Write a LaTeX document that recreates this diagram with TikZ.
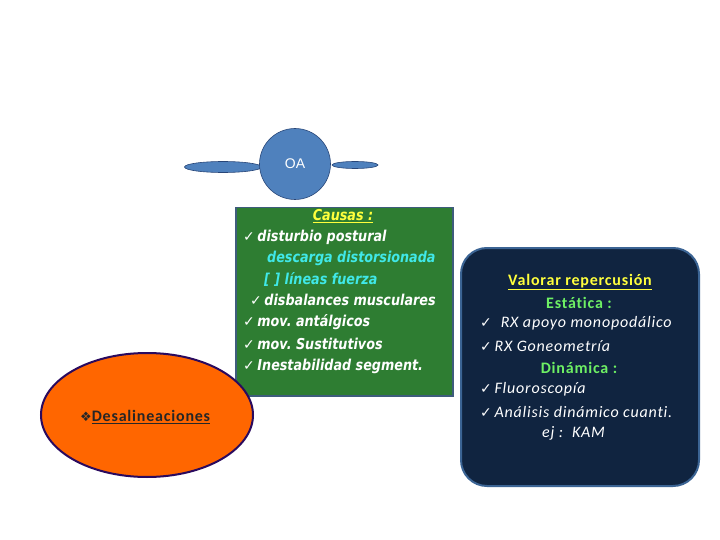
\documentclass[tikz,border=0pt]{standalone}
\usepackage{fontspec}
\usetikzlibrary{shapes.geometric}
\setmainfont{Carlito}
\frenchspacing
\newfontfamily\dvs{DejaVu Sans}
\newfontfamily\greenfont[FakeStretch=0.85]{DejaVu Sans}
\newfontfamily\boxfont[LetterSpace=5,Ligatures=NoCommon]{Carlito}
\newfontfamily\oafont{Liberation Sans}
\newcommand{\gck}{{\dvs\mdseries\upshape\fontsize{14}{16}\selectfont ✓}}
\newcommand{\dck}{{\dvs\mdseries\upshape\fontsize{14}{16}\selectfont ✓}}
\definecolor{oablue}{RGB}{79,129,189}
\definecolor{oaedge}{RGB}{40,70,120}
\definecolor{gfill}{RGB}{46,125,50}
\definecolor{gedge}{RGB}{62,92,124}
\definecolor{cyantxt}{RGB}{64,232,232}
\definecolor{ylw}{RGB}{255,255,60}
\definecolor{dfill}{RGB}{16,36,64}
\definecolor{dedge}{RGB}{59,100,148}
\definecolor{lgreen}{RGB}{110,240,100}
\definecolor{orng}{RGB}{255,102,0}
\definecolor{purp}{RGB}{42,10,94}
\begin{document}
\begin{tikzpicture}[x=1pt,y=-1pt,
  gtext/.style={text=white,font=\greenfont\fontsize{15}{17}\selectfont\bfseries\itshape,anchor=west,inner sep=0pt},
  ctext/.style={text=cyantxt,font=\greenfont\fontsize{15}{17}\selectfont\bfseries\itshape,anchor=west,inner sep=0pt},
  dtext/.style={text=white,font=\boxfont\fontsize{16}{18}\selectfont\itshape,anchor=west,inner sep=0pt},
  dhead/.style={font=\boxfont\fontsize{16}{18}\selectfont\bfseries,anchor=center,inner sep=0pt}]
\useasboundingbox (0,0) rectangle (720,540);
\fill[white] (0,0) rectangle (720,540);
% OA
\node[ellipse,draw=oaedge,fill=oablue,line width=0.6pt,minimum width=77pt,minimum height=11pt,inner sep=0pt] (le) at (223,167) {};
\node[ellipse,draw=oaedge,fill=oablue,line width=0.6pt,minimum width=46pt,minimum height=7pt,inner sep=0pt] (re) at (355,165) {};
\node[circle,draw=oaedge,fill=oablue,line width=0.6pt,minimum size=71pt,inner sep=0pt,text=white,font=\oafont\fontsize{14}{16}\selectfont] (oa) at (295,164) {OA};
% green box
\node[draw=gedge,fill=gfill,line width=1.5pt,minimum width=217pt,minimum height=188pt,anchor=north west,inner sep=0pt] (gbox) at (235,207) {};
\node[text=ylw,font=\greenfont\fontsize{15}{17}\selectfont\bfseries\itshape,inner sep=0pt] (causas) at (343,216) {\underline{Causas :}};
\node[gtext] (g1) at (243,237) {\gck\,disturbio postural};
\node[ctext] (g2) at (267,258) {descarga distorsionada};
\node[ctext] (g3) at (264,279) {[ ] líneas fuerza};
\node[gtext] (g4) at (250,300) {\gck\,disbalances musculares};
\node[gtext] (g5) at (243,322) {\gck\,mov. antálgicos};
\node[gtext] (g6) at (243,344) {\gck\,mov. Sustitutivos};
\node[gtext] (g7) at (243,366) {\gck\,Inestabilidad segment.};
% orange ellipse
\node[ellipse,draw=purp,fill=orng,line width=2pt,minimum width=212pt,minimum height=124pt,inner sep=0pt] (des) at (147,415) {};
\node[anchor=west,inner sep=0pt,text=black!85,font=\boxfont\fontsize{16}{18}\selectfont\bfseries] (destxt) at (80,417) {{\dvs\mdseries\fontsize{13}{15}\selectfont ❖}\underline{Desalineaciones}};
% dark box
\node[draw=dedge,fill=dfill,line width=2pt,rounded corners=26pt,minimum width=238pt,minimum height=238pt,anchor=north west,inner sep=0pt] (dbox) at (460,247) {};
\node[dhead,text=ylw] (v0) at (580,282) {\underline{Valorar repercusión}};
\node[dhead,text=lgreen] (v1) at (579,303) {Estática :};
\node[dtext] (v2) at (480,323) {\dck\ \ RX apoyo monopodálico};
\node[dtext] (v3) at (480,346) {\dck\,RX Goneometría};
\node[dhead,text=lgreen] (v4) at (579,368) {Dinámica :};
\node[dtext] (v5) at (480,389) {\dck\,Fluoroscopía};
\node[dtext] (v6) at (480,412) {\dck\,Análisis dinámico cuanti.};
\node[dtext] (v7) at (542,433) {ej :\ \ KAM};
\end{tikzpicture}
\end{document}
